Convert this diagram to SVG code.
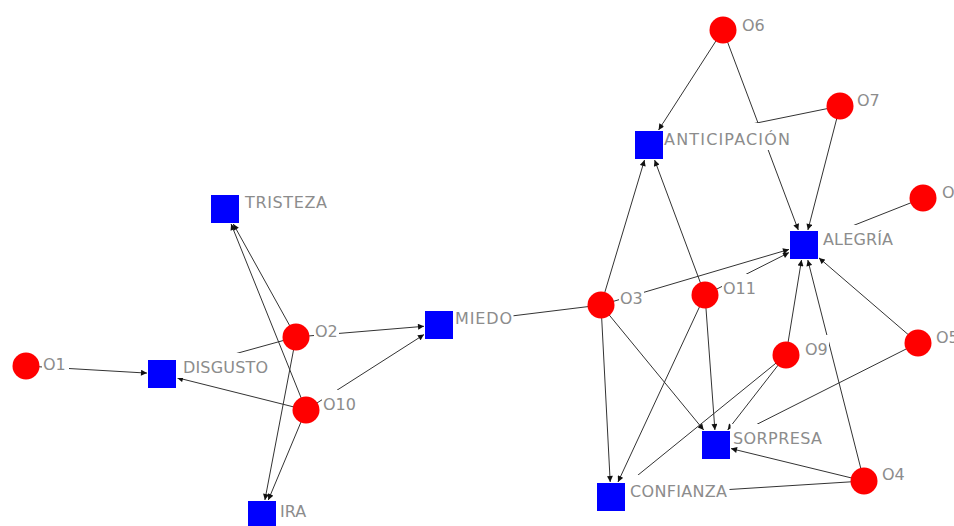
<svg xmlns="http://www.w3.org/2000/svg" width="954" height="526" viewBox="0 0 954 526">
<style>
.e{stroke:#333;stroke-width:1;fill:none;marker-end:url(#ah)}
.o{fill:#ff0000}
.s{fill:#0000ff}
.bg{fill:#fff}
.t{font-family:"DejaVu Sans",sans-serif;font-size:16px;fill:#8c8c8c}
</style>
<defs>
<marker id="ah" viewBox="0 0 10 10" refX="10" refY="5" markerWidth="7" markerHeight="6" markerUnits="userSpaceOnUse" orient="auto">
<path d="M0,0 L10,5 L0,10 z" fill="#111"/>
</marker>
</defs>
<rect width="954" height="526" fill="#fff"/>
<g id="connectors">
<line class="e" x1="26" y1="366" x2="147" y2="373.1"/>
<line class="e" x1="306" y1="410" x2="177" y2="377.7"/>
<line class="e" x1="296" y1="337" x2="177" y2="369.9"/>
<line class="e" x1="296" y1="337" x2="233.3" y2="224"/>
<line class="e" x1="306" y1="410" x2="231.1" y2="224"/>
<line class="e" x1="296" y1="337" x2="264.9" y2="500"/>
<line class="e" x1="306" y1="410" x2="268.3" y2="500"/>
<line class="e" x1="296" y1="337" x2="424" y2="326.3"/>
<line class="e" x1="306" y1="410" x2="424" y2="334.6"/>
<line class="e" x1="601" y1="305" x2="454" y2="323.1"/>
<line class="e" x1="601" y1="305" x2="644.5" y2="160"/>
<line class="e" x1="705" y1="295" x2="654.6" y2="160"/>
<line class="e" x1="723" y1="30" x2="658.6" y2="130"/>
<line class="e" x1="840" y1="106" x2="664" y2="141.9"/>
<line class="e" x1="723" y1="30" x2="798.3" y2="230"/>
<line class="e" x1="840" y1="106" x2="807.9" y2="230"/>
<line class="e" x1="923" y1="198" x2="819" y2="239.1"/>
<line class="e" x1="601" y1="305" x2="789" y2="249.4"/>
<line class="e" x1="705" y1="295" x2="789" y2="252.6"/>
<line class="e" x1="786" y1="355" x2="801.5" y2="260"/>
<line class="e" x1="864" y1="481" x2="807.8" y2="260"/>
<line class="e" x1="918" y1="343" x2="819" y2="257.9"/>
<line class="e" x1="601" y1="305" x2="610.2" y2="482"/>
<line class="e" x1="705" y1="295" x2="618" y2="482"/>
<line class="e" x1="786" y1="355" x2="626" y2="484.8"/>
<line class="e" x1="864" y1="481" x2="626" y2="496"/>
<line class="e" x1="601" y1="305" x2="703.7" y2="430"/>
<line class="e" x1="705" y1="295" x2="714.9" y2="430"/>
<line class="e" x1="786" y1="355" x2="727.7" y2="430"/>
<line class="e" x1="918" y1="343" x2="731" y2="437.4"/>
<line class="e" x1="864" y1="481" x2="731" y2="448.6"/>
</g>
<g id="O1"><circle class="o" cx="26" cy="366" r="13.5"/><rect class="bg" x="42" y="350" width="27" height="25"/><text class="t" x="43" y="370">O1</text></g>
<g id="O2"><circle class="o" cx="296" cy="337" r="13.5"/><rect class="bg" x="314" y="317" width="25" height="25"/><text class="t" x="315" y="337">O2</text></g>
<g id="O10"><circle class="o" cx="306" cy="410" r="13.5"/><rect class="bg" x="322" y="390" width="37" height="25"/><text class="t" x="323" y="410">O10</text></g>
<g id="O3"><circle class="o" cx="601" cy="305" r="13.5"/><rect class="bg" x="619" y="284" width="25" height="25"/><text class="t" x="620" y="304">O3</text></g>
<g id="O11"><circle class="o" cx="705" cy="295" r="13.5"/><rect class="bg" x="722" y="274" width="35" height="25"/><text class="t" x="723" y="294">O11</text></g>
<g id="O9"><circle class="o" cx="786" cy="355" r="13.5"/><rect class="bg" x="804" y="335" width="25" height="25"/><text class="t" x="805" y="355">O9</text></g>
<g id="O5"><circle class="o" cx="918" cy="343" r="13.5"/><rect class="bg" x="935" y="323" width="25" height="25"/><text class="t" x="936" y="343">O5</text></g>
<g id="O4"><circle class="o" cx="864" cy="481" r="13.5"/><rect class="bg" x="881" y="460" width="25" height="25"/><text class="t" x="882" y="480">O4</text></g>
<g id="O6"><circle class="o" cx="723" cy="30" r="13.5"/><rect class="bg" x="741" y="11" width="25" height="25"/><text class="t" x="742" y="31">O6</text></g>
<g id="O7"><circle class="o" cx="840" cy="106" r="13.5"/><rect class="bg" x="856" y="86" width="26" height="25"/><text class="t" x="857" y="106">O7</text></g>
<g id="O8"><circle class="o" cx="923" cy="198" r="13.5"/><rect class="bg" x="941" y="178" width="25" height="25"/><text class="t" x="942" y="198">O8</text></g>
<g id="DISGUSTO"><rect class="s" x="148" y="360" width="28" height="28"/><rect class="bg" x="176.5" y="353" width="94" height="25"/><text class="t" x="183" y="373" textLength="85">DISGUSTO</text></g>
<g id="TRISTEZA"><rect class="s" x="211" y="195" width="28" height="28"/><rect class="bg" x="244" y="188" width="86" height="25"/><text class="t" x="245" y="208" textLength="82">TRISTEZA</text></g>
<g id="MIEDO"><rect class="s" x="425" y="311" width="28" height="28"/><rect class="bg" x="453.5" y="304" width="60" height="25"/><text class="t" x="455" y="324" textLength="57">MIEDO</text></g>
<g id="IRA"><rect class="s" x="248" y="501" width="28" height="28"/><rect class="bg" x="279" y="497" width="34" height="25"/><text class="t" x="280" y="517">IRA</text></g>
<g id="ANTICIPACION"><rect class="s" x="635" y="131" width="28" height="28"/><rect class="bg" x="663.5" y="123" width="130" height="27"/><text class="t" x="664" y="145" textLength="126">ANTICIPACIÓN</text></g>
<g id="ALEGRIA"><rect class="s" x="790" y="231" width="28" height="28"/><rect class="bg" x="818.5" y="225" width="77" height="25"/><text class="t" x="823" y="245" textLength="70">ALEGRÍA</text></g>
<g id="SORPRESA"><rect class="s" x="702" y="431" width="28" height="28"/><rect class="bg" x="730.5" y="424" width="94" height="23"/><text class="t" x="733" y="444" textLength="89">SORPRESA</text></g>
<g id="CONFIANZA"><rect class="s" x="597" y="483" width="28" height="28"/><rect class="bg" x="625.5" y="475" width="104" height="27"/><text class="t" x="630" y="497" textLength="97">CONFIANZA</text></g>
</svg>
